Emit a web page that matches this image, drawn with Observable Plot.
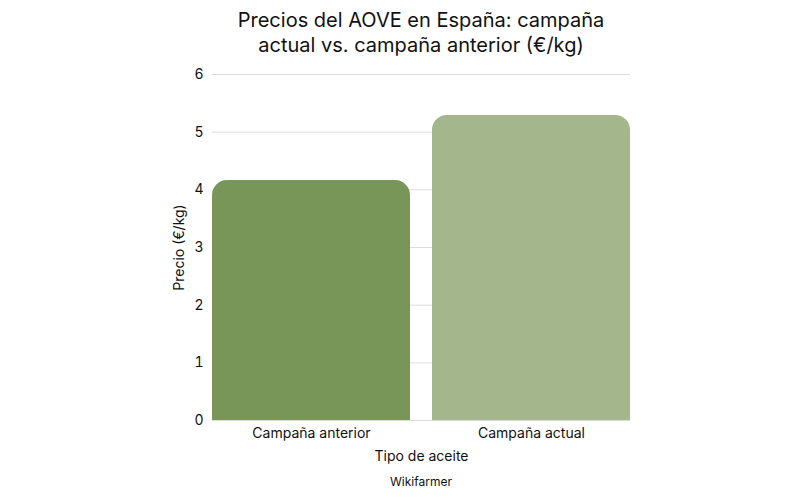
<!DOCTYPE html>
<html><head><meta charset="utf-8">
<script src="https://cdn.jsdelivr.net/npm/d3@7"></script>
<script src="https://cdn.jsdelivr.net/npm/@observablehq/plot@0.6"></script>
<style>
body{margin:0;background:#fff;font-family:Inter,sans-serif;color:#111;}
#title{margin-left:212px;width:418px;text-align:center;font-size:20px;line-height:25px;padding-top:8px;height:52px;}
#cap{margin-left:212px;width:418px;text-align:center;font-size:12px;margin-top:4px;}
</style></head><body>
<div id="title">Precios del AOVE en España: campaña<br>actual vs. campaña anterior (€/kg)</div>
<div id="chart"></div>
<div id="cap">Wikifarmer</div>
<script>
const categories = ["Campaña anterior", "Campaña actual"];
const prices = [4.16, 5.29];
const colors = ["#789657", "#a3b68c"];
const yTicks = [0, 1, 2, 3, 4, 5, 6];
const data = categories.map((c, i) => ({cat: c, price: prices[i]}));
const chart = Plot.plot({
  width: 800, height: 410,
  marginLeft: 212, marginRight: 170, marginTop: 14, marginBottom: 50,
  style: {fontFamily: "Inter, sans-serif", fontSize: "14px", color: "#111", background: "#fff"},
  x: {domain: categories, paddingInner: 0.1, paddingOuter: 0, label: "Tipo de aceite", labelAnchor: "center", labelOffset: 40, tickSize: 0, tickPadding: 8},
  y: {domain: [0, 6], ticks: yTicks, tickFormat: "d", label: "Precio (€/kg)", labelAnchor: "center", labelArrow: "none", labelOffset: 38, tickSize: 0, tickPadding: 9, grid: false},
  color: {domain: categories, range: colors},
  marks: [
    Plot.ruleY(yTicks, {stroke: "#dcdcdc", strokeWidth: 1}),
    Plot.barY(data, {x: "cat", y: "price", fill: "cat", ry1: 15})
  ]
});
document.getElementById("chart").appendChild(chart);
</script>
</body></html>
